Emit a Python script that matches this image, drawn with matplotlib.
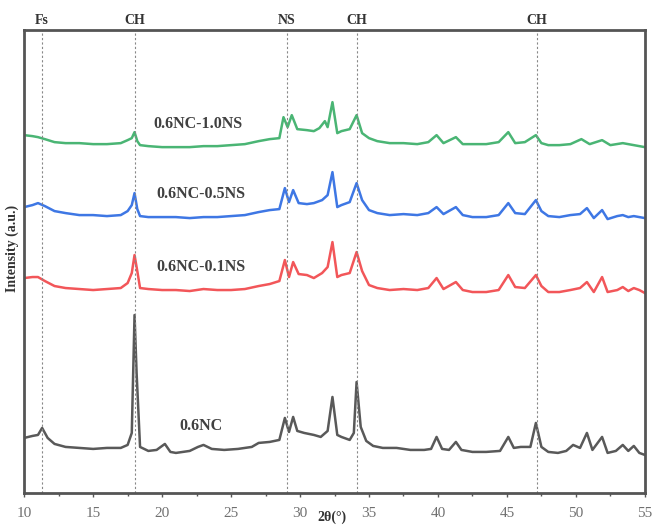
import matplotlib.pyplot as plt

# 2theta positions (deg) and intensities (a.u., offset already included)
tt_nc = [10.0, 10.6, 11.0, 11.3, 11.7, 12.2, 13.0, 14.0, 15.0, 16.0, 17.0, 17.5, 17.8, 18.0, 18.15, 18.4,
         19.0, 19.6, 20.2, 20.6, 21.0, 22.0, 22.6, 23.0, 23.6, 24.5, 25.5, 26.5, 27.0, 27.8, 28.5, 28.9,
         29.2, 29.5, 29.8, 30.3, 31.0, 31.5, 32.0, 32.35, 32.7, 33.0, 33.6, 33.9, 34.1, 34.4, 34.8, 35.3,
         36.0, 37.0, 38.0, 39.0, 39.5, 39.9, 40.3, 40.8, 41.3, 41.7, 42.5, 43.5, 44.5, 45.1, 45.5, 46.0,
         46.7, 47.1, 47.5, 48.0, 48.7, 49.3, 49.8, 50.3, 50.8, 51.2, 51.9, 52.3, 52.9, 53.4, 53.8, 54.2,
         54.6, 55.0]
int_nc = [55, 57, 58, 65, 55, 49, 46, 45, 44, 45, 45, 48, 60, 178, 120, 46,
          42, 43, 49, 41, 40, 42, 46, 48, 44, 43, 44, 46, 50, 51, 53, 75,
          61, 76, 62, 60, 58, 56, 62, 96, 58, 56, 53, 60, 111, 66, 52, 47,
          45, 45, 43, 43, 44, 56, 44, 43, 51, 43, 41, 41, 42, 56, 45, 46,
          46, 70, 46, 41, 40, 42, 48, 45, 60, 43, 56, 40, 42, 48, 42, 47,
          40, 38]

tt_01 = [10.0, 10.6, 11.0, 11.5, 12.2, 13.0, 14.0, 15.0, 16.0, 17.0, 17.5, 17.8, 18.0, 18.2, 18.4,
         19.0, 20.0, 21.0, 22.0, 23.0, 24.0, 25.0, 26.0, 27.0, 27.8, 28.5, 28.9, 29.2, 29.5, 29.9,
         30.5, 31.0, 31.6, 32.0, 32.35, 32.7, 33.0, 33.6, 34.1, 34.5, 35.0, 35.6, 36.5, 37.5, 38.5,
         39.3, 39.9, 40.4, 41.3, 41.8, 42.5, 43.5, 44.4, 45.1, 45.6, 46.3, 47.1, 47.5, 48.0, 48.8,
         49.6, 50.3, 50.8, 51.3, 51.9, 52.3, 53.0, 53.4, 53.8, 54.2, 54.6, 55.0]
int_01 = [215, 216, 216, 212, 207, 205, 204, 203, 204, 205, 210, 220, 238, 222, 205,
          204, 203, 203, 202, 204, 203, 203, 204, 207, 209, 212, 233, 216, 231, 219,
          218, 215, 220, 226, 251, 216, 218, 220, 241, 222, 208, 205, 203, 204, 203,
          205, 215, 204, 211, 203, 201, 201, 203, 218, 206, 205, 218, 207, 201, 201,
          203, 205, 211, 201, 216, 201, 203, 206, 202, 205, 203, 200]

tt_05 = [10.0, 10.6, 11.0, 11.5, 12.2, 13.0, 14.0, 15.0, 16.0, 17.0, 17.5, 17.8, 18.0, 18.2, 18.4,
         19.0, 20.0, 21.0, 22.0, 23.0, 24.0, 25.0, 26.0, 27.0, 27.8, 28.5, 28.9, 29.2, 29.5, 29.9,
         30.5, 31.0, 31.6, 32.0, 32.35, 32.7, 33.0, 33.6, 34.1, 34.5, 35.0, 35.6, 36.5, 37.5, 38.5,
         39.3, 39.9, 40.4, 41.3, 41.8, 42.5, 43.5, 44.4, 45.1, 45.6, 46.3, 47.1, 47.5, 48.0, 48.8,
         49.6, 50.3, 50.8, 51.3, 51.9, 52.3, 53.0, 53.4, 53.8, 54.2, 54.6, 55.0]
int_05 = [286, 288, 290, 287, 282, 280, 278, 278, 277, 278, 282, 288, 300, 284, 277,
          276, 276, 276, 275, 276, 276, 277, 278, 281, 283, 284, 305, 291, 303, 290,
          289, 290, 293, 298, 321, 286, 288, 291, 310, 293, 283, 280, 278, 279, 278,
          280, 286, 279, 286, 278, 276, 276, 278, 290, 280, 279, 293, 282, 277, 276,
          278, 279, 285, 275, 283, 274, 277, 278, 276, 277, 276, 275]

tt_10 = [10.0, 10.6, 11.0, 11.5, 12.2, 13.0, 14.0, 15.0, 16.0, 17.0, 17.5, 17.8, 18.0, 18.2, 18.4,
         19.0, 20.0, 21.0, 22.0, 23.0, 24.0, 25.0, 26.0, 27.0, 27.8, 28.5, 28.8, 29.1, 29.4, 29.8,
         30.5, 31.0, 31.4, 31.8, 32.0, 32.35, 32.7, 33.0, 33.6, 34.1, 34.5, 35.0, 35.6, 36.5, 37.5,
         38.5, 39.3, 39.9, 40.4, 41.3, 41.8, 42.5, 43.5, 44.4, 45.1, 45.6, 46.3, 47.1, 47.5, 48.0,
         48.8, 49.6, 50.4, 51.0, 51.9, 52.5, 53.4, 54.2, 55.0]
int_10 = [358, 357, 356, 354, 351, 350, 350, 349, 349, 350, 353, 355, 361, 352, 348,
          347, 346, 346, 346, 347, 347, 348, 349, 352, 354, 355, 376, 366, 378, 364,
          363, 362, 365, 372, 366, 391, 360, 362, 364, 378, 360, 355, 352, 350, 350,
          349, 351, 358, 350, 356, 349, 349, 349, 351, 361, 350, 351, 358, 350, 348,
          348, 349, 354, 349, 353, 348, 350, 348, 346]

series = [
    (tt_nc, int_nc, '#3c3c3c', '0.6NC', 22.8, 67),
    (tt_01, int_01, '#f0383c', '0.6NC-0.1NS', 22.8, 226),
    (tt_05, int_05, '#1c5fe0', '0.6NC-0.5NS', 22.8, 299),
    (tt_10, int_10, '#2aa85c', '0.6NC-1.0NS', 22.6, 369),
]

phase_pos = [11.3, 18.05, 29.05, 34.1, 47.15]
phase_lbl = ['Fs', 'CH', 'NS', 'CH', 'CH']

fig = plt.figure(figsize=(6.54, 5.30), dpi=100)
ax = fig.add_axes([0.037, 0.070, 0.949, 0.873])

for x, y, c, name, lx, ly in series:
    ax.plot(x, y, color=c, lw=1.8, alpha=0.85)
    ax.text(lx, ly, name, ha='center', va='center', fontsize=11.5,
            fontweight='bold', family='Liberation Serif', color='#404040')

for p, lbl in zip(phase_pos, phase_lbl):
    ax.axvline(p, color='#888888', lw=0.8, ls=(0, (2, 2)))
    ax.text(p, 466, lbl, ha='center', va='bottom', fontsize=10,
            fontweight='bold', family='Liberation Serif', color='#333333')

ax.set_xlim(10, 55)
ax.set_ylim(0, 463)
ax.set_yticks([])
ax.set_xticks([10, 15, 20, 25, 30, 35, 40, 45, 50, 55])
ax.set_xticks([12.5, 17.5, 22.5, 27.5, 32.5, 37.5, 42.5, 47.5, 52.5], minor=True)
ax.tick_params(axis='x', direction='out', length=3, width=1, colors='#555555',
               labelsize=11, labelcolor='#707070', pad=7)
ax.tick_params(axis='x', which='minor', direction='out', length=2, width=1, colors='#555555')
for t in ax.get_xticklabels():
    t.set_family('Liberation Serif')

for s in ax.spines.values():
    s.set_linewidth(2)
    s.set_color('#555555')

fig.text(0.507, 0.024, '2θ(°)', ha='center', va='center', fontsize=10,
         fontweight='bold', family='Liberation Serif', color='#333333')
fig.text(0.018, 0.532, 'Intensity (a.u.)', ha='center', va='center', rotation=90,
         fontsize=10, fontweight='bold', family='Liberation Serif', color='#333333')

plt.savefig('out.png', dpi=100)
